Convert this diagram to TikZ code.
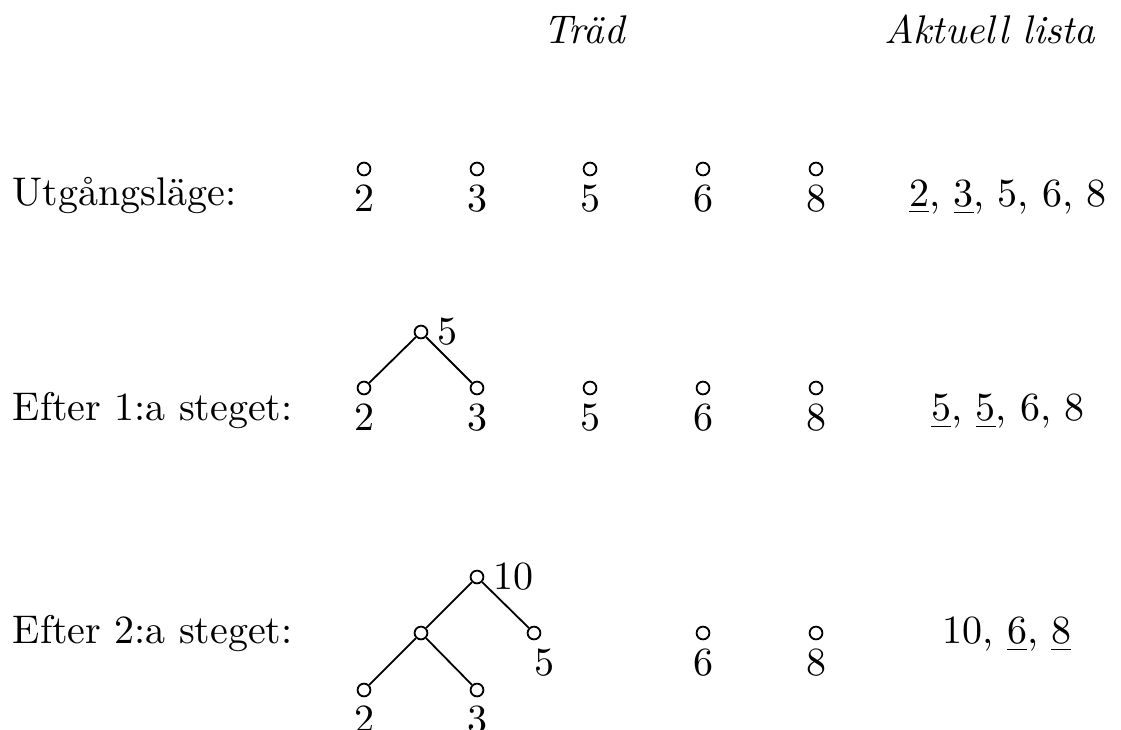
\documentclass[tikz,border=0pt]{standalone}
\usepackage{tikz}
\usetikzlibrary{positioning}
\tikzset{
    knut/.style={circle, draw, line width=0.45pt, inner sep=0pt, minimum size=3.2pt},
    siffra/.style={inner sep=2pt},
    rubrik/.style={font=\itshape, anchor=base},
    radtext/.style={anchor=base west, inner sep=0pt},
    lista/.style={anchor=base}
}

\begin{document}
\begin{tikzpicture}[x=0.25pt, y=-0.25pt, line width=0.45pt]
    \useasboundingbox (0,0) rectangle (1121,729);

    % Rubriker
    \node[rubrik] (trad) at (584,43) {Träd};
    \node[rubrik] (aktuell) at (990,43) {Aktuell lista};

    % Utgångsläge
    \node[radtext] (rad1) at (12,205) {Utgångsläge:};
    \node[knut, label={[siffra]below:2}] (u2) at (364,169) {};
    \node[knut, label={[siffra]below:3}] (u3) at (477,169) {};
    \node[knut, label={[siffra]below:5}] (u5) at (590,169) {};
    \node[knut, label={[siffra]below:6}] (u6) at (703,169) {};
    \node[knut, label={[siffra]below:8}] (u8) at (816,169) {};
    \node[lista] (lista1) at (1008,206) {\underline{2}, \underline{3}, 5, 6, 8};

    % Efter 1:a steget
    \node[radtext] (rad2) at (12,420) {Efter 1:a steget:};
    \node[knut, label={[siffra]right:5}] (f5) at (421,332) {};
    \node[knut, label={[siffra]below:2}] (f2) at (364,388) {};
    \node[knut, label={[siffra]below:3}] (f3) at (477,388) {};
    \node[knut, label={[siffra]below:5}] (f5b) at (590,388) {};
    \node[knut, label={[siffra]below:6}] (f6) at (703,388) {};
    \node[knut, label={[siffra]below:8}] (f8) at (816,388) {};
    \draw (f5) -- (f2);
    \draw (f5) -- (f3);
    \node[lista] (lista2) at (1008,420) {\underline{5}, \underline{5}, 6, 8};

    % Efter 2:a steget
    \node[radtext] (rad3) at (12,643) {Efter 2:a steget:};
    \node[knut, label={[siffra]right:10}] (s10) at (477,577) {};
    \node[knut] (s5a) at (421,633) {};
    \node[knut, label={[siffra, xshift=2.5pt]below:5}] (s5b) at (534,633) {};
    \node[knut, label={[siffra]below:2}] (s2) at (364,690) {};
    \node[knut, label={[siffra]below:3}] (s3) at (477,690) {};
    \node[knut, label={[siffra]below:6}] (s6) at (703,633) {};
    \node[knut, label={[siffra]below:8}] (s8) at (816,633) {};
    \draw (s10) -- (s5a);
    \draw (s10) -- (s5b);
    \draw (s5a) -- (s2);
    \draw (s5a) -- (s3);
    \node[lista] (lista3) at (1007,643) {10, \underline{6}, \underline{8}};
\end{tikzpicture}
\end{document}
